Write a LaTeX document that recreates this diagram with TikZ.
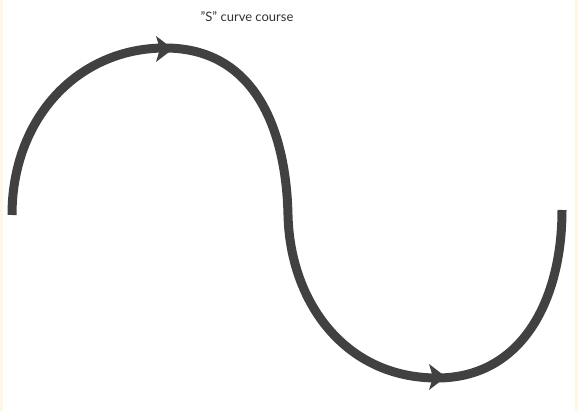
\documentclass[tikz,border=0pt]{standalone}
\usepackage{fontspec}
\setmainfont{Lato}
\usetikzlibrary{arrows.meta}
\definecolor{curvegray}{HTML}{414141}
\definecolor{cream}{HTML}{FFF6E4}
\tikzset{
  course/.style={draw=curvegray, line width=9pt, line cap=butt},
  headfill/.style={fill=curvegray},
  lbl/.style={font=\fontsize{13}{15}\selectfont, text=black!80, inner sep=0pt}
}
\begin{document}
\begin{tikzpicture}[x=1pt,y=-1pt]
\useasboundingbox (0,0) rectangle (578,411);
\fill[white] (0,0) rectangle (578,411);
\fill[cream] (0,0) rectangle (3,411);
\fill[cream] (575,0) rectangle (578,411);
\node[lbl] (title) at (247,17) {"S" curve course};
\coordinate (s) at (12,215);
\coordinate (top) at (165,48);
\coordinate (mid) at (288,215);
\coordinate (bot) at (437,378);
\coordinate (e) at (562,210);
\draw[course] (s) .. controls (12,118) and (78,48) .. (top)
  .. controls (254,48) and (286,128) .. (mid)
  .. controls (290,302) and (345,378) .. (bot)
  .. controls (522,378) and (562,300) .. (e);
\fill[headfill] (173,49) -- (156,36) -- (160,49) -- (156,62) -- cycle;
\fill[headfill] (446,377) -- (429,364) -- (433,377) -- (429,390) -- cycle;
\end{tikzpicture}
\end{document}
